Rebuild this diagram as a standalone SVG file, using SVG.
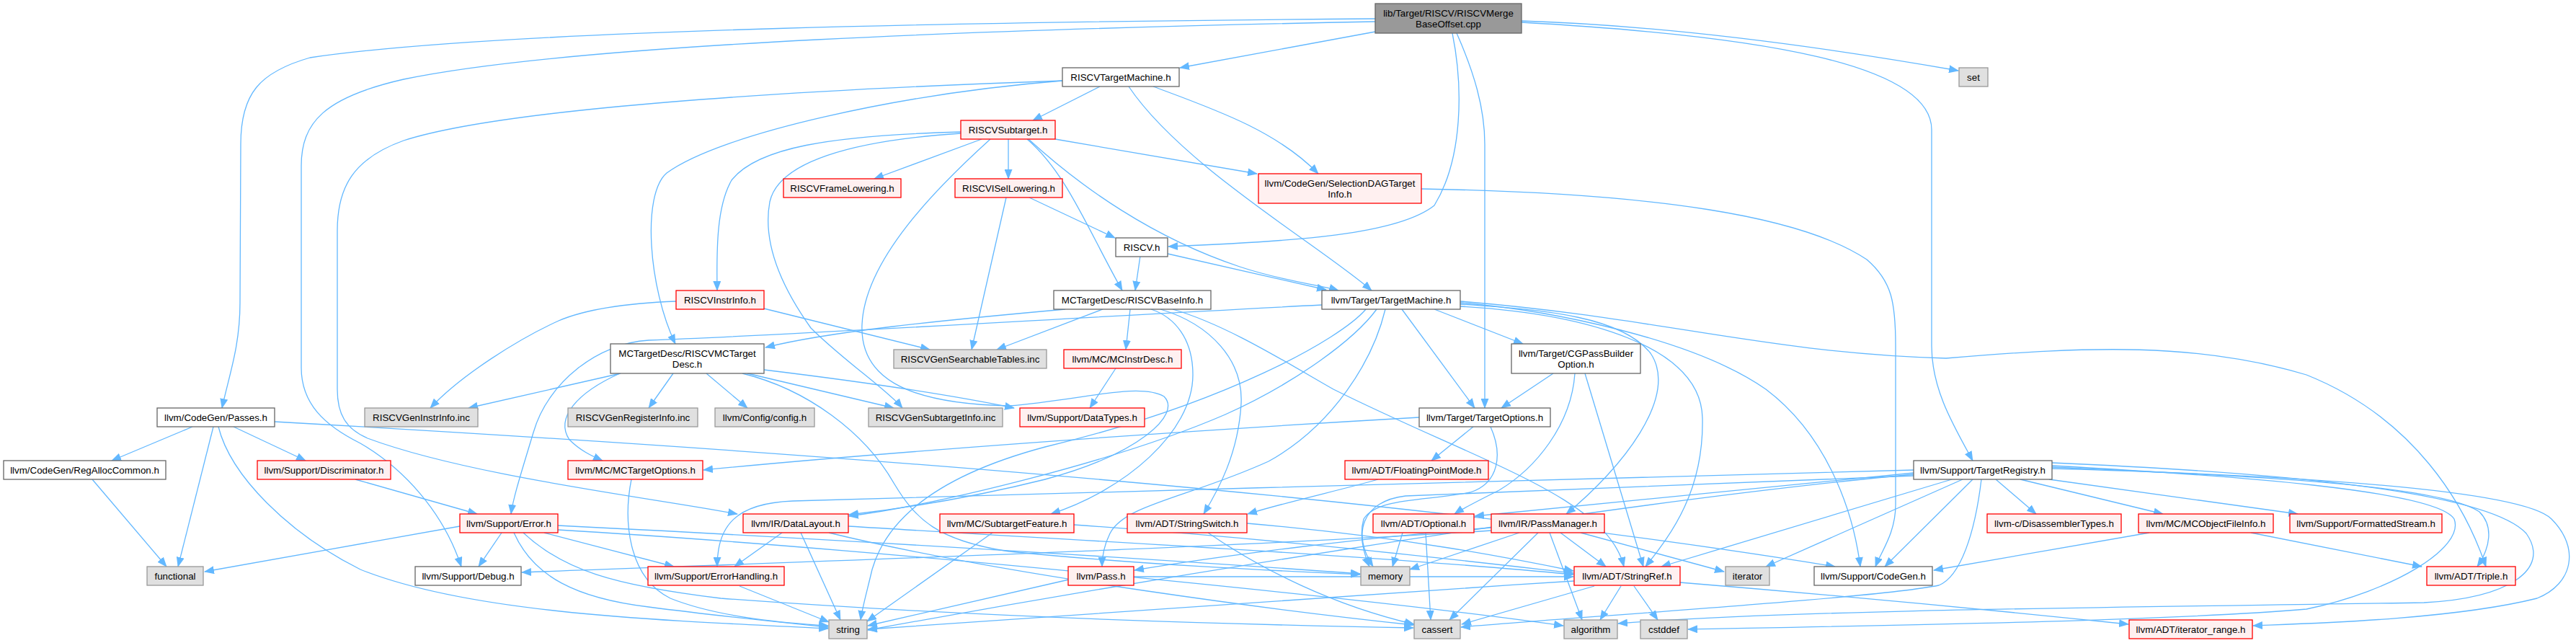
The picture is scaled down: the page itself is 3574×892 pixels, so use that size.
<svg xmlns="http://www.w3.org/2000/svg" width="3574" height="892" viewBox="0 0 3574 892">
<defs>
<marker id="arr" markerUnits="userSpaceOnUse" markerWidth="14" markerHeight="11" viewBox="0 0 14 11" refX="13" refY="5.5" orient="auto"><path d="M0,0 L14,5.5 L0,11 z" fill="#63b8ff"/></marker>
<style>
.node rect{stroke-width:1.3}
.w{fill:#ffffff;stroke:#666666}
.r{fill:#fff0f0;stroke:#ff0000}
.g{fill:#e0e0e0;stroke:#999999}
.m{fill:#999999;stroke:#666666}
text{font-family:"Liberation Sans",Arial,Helvetica,sans-serif;font-size:13.33px;fill:#000000;text-anchor:middle}
#edges path{fill:none;stroke:#63b8ff;stroke-width:1.3;marker-end:url(#arr)}
</style>
</defs>
<rect x="0" y="0" width="3574" height="892" fill="#ffffff"/>
<g id="edges">
<path d="M1908,44 L1637,94"/>
<path d="M1908,26 C1400,30 700,40 430,80 C360,100 334,130 334,200 L333,420 C333,480 318,520 308,566"/>
<path d="M1908,30 C1400,40 800,60 560,110 C450,135 418,170 418,230 L418,510 C418,560 450,590 500,615 C560,650 615,710 640,786"/>
<path d="M2015,46 C2030,120 2030,220 1990,285 C1940,325 1800,335 1621,342"/>
<path d="M2021,46 C2045,100 2060,150 2060,200 L2060,566"/>
<path d="M2111,29 C2300,35 2500,60 2717,98"/>
<path d="M2111,31 C2450,50 2680,90 2680,180 L2680,480 C2680,540 2710,590 2737,639"/>
<path d="M1526,120 L1433,167"/>
<path d="M1566,120 C1640,230 1830,340 1903,403"/>
<path d="M1600,120 C1680,150 1770,180 1829,241"/>
<path d="M1474,112 C1250,130 1000,185 925,240 C890,270 900,400 937,477"/>
<path d="M1474,112 C1100,125 700,150 560,195 C490,220 468,260 468,320 L468,540 C468,575 480,595 510,608 C650,660 900,690 1023,713"/>
<path d="M1333,183 C1150,188 1050,205 1015,250 C995,285 994,340 995,403"/>
<path d="M1333,185 C1180,195 1080,225 1068,280 C1055,350 1100,420 1125,455 C1170,500 1230,540 1252,566"/>
<path d="M1362,193 L1213,248"/>
<path d="M1399,193 L1399,248"/>
<path d="M1425,193 C1480,240 1510,320 1557,403"/>
<path d="M1427,193 C1500,260 1600,330 1720,370 C1780,390 1830,395 1857,403"/>
<path d="M1464,193 L1744,241"/>
<path d="M1374,193 C1300,260 1200,360 1196,450 C1193,520 1250,560 1400,563 C1500,555 1580,530 1615,550 C1640,575 1580,630 1450,665 C1330,695 1230,708 1178,714"/>
<path d="M1428,274 L1547,330"/>
<path d="M1396,274 L1348,485"/>
<path d="M1972,262 C2300,268 2500,300 2590,360 C2625,390 2630,420 2630,480 L2630,700 C2630,740 2610,765 2602,786"/>
<path d="M1582,355 L1575,403"/>
<path d="M1620,352 L1840,402"/>
<path d="M938,418 C860,421 810,430 775,445 C720,470 640,520 597,566"/>
<path d="M1060,428 C1150,450 1230,470 1290,485"/>
<path d="M1478,429 C1300,445 1150,460 1062,482"/>
<path d="M1530,429 L1383,485"/>
<path d="M1568,429 L1562,485"/>
<path d="M1597,429 C1630,440 1655,470 1655,520 C1655,600 1560,680 1458,713"/>
<path d="M1610,429 C1680,450 1725,500 1722,560 C1718,630 1690,680 1670,713"/>
<path d="M1627,429 C1700,450 1780,500 1850,540 C2050,640 2230,690 2253,786"/>
<path d="M1834,423 C1500,440 1100,465 900,472 C830,476 760,530 740,600 C725,650 712,690 709,713"/>
<path d="M1910,429 C1880,470 1800,530 1700,575 C1550,640 1300,700 1178,716"/>
<path d="M1922,429 C1905,500 1850,590 1760,640 C1650,690 1560,700 1540,740 C1530,760 1529,775 1529,786"/>
<path d="M1895,429 C1860,470 1700,560 1450,620 C1300,660 1230,720 1210,790 C1203,820 1197,840 1194,860"/>
<path d="M1945,429 L2046,566"/>
<path d="M1990,429 L2113,477"/>
<path d="M2026,422 C2150,430 2250,440 2290,490 C2330,550 2250,650 2173,713"/>
<path d="M2026,425 C2200,435 2360,480 2362,580 C2364,680 2320,740 2283,786"/>
<path d="M2026,420 C2150,430 2350,470 2450,540 C2530,600 2570,700 2581,786"/>
<path d="M2026,418 C2300,440 2450,490 2700,497 C2900,480 3050,475 3200,520 C3350,580 3420,700 3449,786"/>
<path d="M1548,511 L1512,566"/>
<path d="M861,518 L650,566"/>
<path d="M934,518 L900,566"/>
<path d="M980,518 L1037,566"/>
<path d="M1037,518 L1240,566"/>
<path d="M1060,513 C1200,530 1330,550 1407,566"/>
<path d="M860,518 C800,545 770,580 790,610 C805,625 820,632 836,639"/>
<path d="M1030,518 C1120,540 1200,600 1240,670 C1270,720 1300,750 1400,765 C1600,785 1800,793 1887,797"/>
<path d="M2155,518 L2083,566"/>
<path d="M2185,518 C2180,590 2130,650 2080,680 C2050,695 2030,705 2018,713"/>
<path d="M2199,518 L2280,786"/>
<path d="M267,592 L155,639"/>
<path d="M296,592 L247,786"/>
<path d="M303,592 C320,660 400,740 500,790 C650,850 900,860 1149,872"/>
<path d="M324,592 L424,639"/>
<path d="M381,585 C1000,620 1900,680 2546,786"/>
<path d="M128,665 L231,786"/>
<path d="M493,665 L662,713"/>
<path d="M876,665 C865,720 870,800 930,830 C1000,858 1100,865 1149,868"/>
<path d="M2044,592 L1986,639"/>
<path d="M1969,579 C1600,600 1200,630 976,652"/>
<path d="M2068,592 C2085,630 2080,670 2040,683 C1980,695 1910,690 1892,720 C1885,745 1893,770 1900,786"/>
<path d="M1912,665 C1860,680 1790,695 1731,713"/>
<path d="M2769,665 L2825,713"/>
<path d="M2803,665 L3001,713"/>
<path d="M2843,665 L3188,713"/>
<path d="M2847,648 C3100,660 3380,670 3440,710 C3460,730 3455,760 3437,786"/>
<path d="M2847,650 C3200,660 3500,680 3540,720 C3580,760 3570,810 3520,830 C3400,860 3200,865 3126,868"/>
<path d="M2847,646 C3100,660 3380,680 3405,720 C3420,760 3320,820 3200,845 C3000,862 2600,868 2342,873"/>
<path d="M2847,642 C3150,655 3450,680 3505,740 C3540,790 3480,830 3363,836 C3000,842 2500,845 2245,865"/>
<path d="M2749,665 C2740,740 2720,800 2690,812 C2600,830 2200,855 2027,870"/>
<path d="M2708,665 L2305,786"/>
<path d="M2723,665 L2450,786"/>
<path d="M2737,665 L2615,786"/>
<path d="M2655,656 L2046,716"/>
<path d="M2655,652 C2200,665 1600,680 1100,695 C1020,698 995,730 995,786"/>
<path d="M2655,658 C2200,700 1500,820 1204,874"/>
<path d="M2655,660 C2300,672 2050,682 1950,688 C1890,695 1875,740 1905,786"/>
<path d="M638,730 L284,793"/>
<path d="M696,739 L664,786"/>
<path d="M755,739 L935,786"/>
<path d="M713,739 C740,800 800,830 900,842 C1000,855 1100,865 1149,870"/>
<path d="M726,739 C780,790 850,812 1000,830 C1400,860 1800,868 1961,871"/>
<path d="M774,735 C1200,760 1900,830 2169,868"/>
<path d="M774,729 C1100,745 1600,775 1887,796"/>
<path d="M1085,739 L1019,786"/>
<path d="M1111,739 L1166,860"/>
<path d="M1150,739 C1400,800 1800,850 1961,867"/>
<path d="M1177,730 C1500,750 1900,770 2183,797"/>
<path d="M1377,739 L1203,862"/>
<path d="M1490,728 C1800,750 2050,780 2183,795"/>
<path d="M1730,726 C1950,745 2100,775 2183,792"/>
<path d="M1676,739 C1750,790 1850,840 1962,866"/>
<path d="M1946,739 L1932,786"/>
<path d="M1978,739 L1985,860"/>
<path d="M2108,739 L1956,790"/>
<path d="M2134,739 L2011,860"/>
<path d="M2150,739 L2195,860"/>
<path d="M2165,739 L2228,786"/>
<path d="M2193,739 L2392,793"/>
<path d="M2069,732 C1900,745 1700,770 1574,791"/>
<path d="M2069,736 C1700,760 1100,780 724,794"/>
<path d="M2982,739 L2683,791"/>
<path d="M3123,739 L3360,786"/>
<path d="M1026,813 L1150,863"/>
<path d="M1483,804 L1204,868"/>
<path d="M1573,800 C1800,800 2000,800 2183,800"/>
<path d="M2184,806 C1800,830 1400,860 1204,873"/>
<path d="M2212,813 L2028,866"/>
<path d="M2249,813 L2220,860"/>
<path d="M2267,813 L2300,860"/>
<path d="M2331,808 C2600,830 2800,850 2953,866"/>
</g>
<g id="n0" class="node"><rect class="m" x="1908" y="5" width="203" height="41"/><text x="2009.5" y="23">lib/Target/RISCV/RISCVMerge</text><text x="2009.5" y="38">BaseOffset.cpp</text></g>
<g id="n1" class="node"><rect class="w" x="1474" y="94" width="162" height="26"/><text x="1555" y="111.7">RISCVTargetMachine.h</text></g>
<g id="n2" class="node"><rect class="g" x="2718" y="94" width="40" height="26"/><text x="2738" y="111.7">set</text></g>
<g id="n3" class="node"><rect class="r" x="1333" y="167" width="131" height="26"/><text x="1398.5" y="184.7">RISCVSubtarget.h</text></g>
<g id="n4" class="node"><rect class="r" x="1087" y="248" width="163" height="26"/><text x="1168.5" y="265.7">RISCVFrameLowering.h</text></g>
<g id="n5" class="node"><rect class="r" x="1325" y="248" width="149" height="26"/><text x="1399.5" y="265.7">RISCVISelLowering.h</text></g>
<g id="n6" class="node"><rect class="r" x="1746" y="241" width="226" height="41"/><text x="1859" y="259">llvm/CodeGen/SelectionDAGTarget</text><text x="1859" y="274">Info.h</text></g>
<g id="n7" class="node"><rect class="w" x="1548" y="330" width="72" height="26"/><text x="1584" y="347.7">RISCV.h</text></g>
<g id="n8" class="node"><rect class="r" x="938" y="403" width="122" height="26"/><text x="999" y="420.7">RISCVInstrInfo.h</text></g>
<g id="n9" class="node"><rect class="w" x="1462" y="403" width="218" height="26"/><text x="1571" y="420.7">MCTargetDesc/RISCVBaseInfo.h</text></g>
<g id="n10" class="node"><rect class="w" x="1834" y="403" width="192" height="26"/><text x="1930" y="420.7">llvm/Target/TargetMachine.h</text></g>
<g id="n11" class="node"><rect class="g" x="1240" y="485" width="212" height="26"/><text x="1346" y="502.7">RISCVGenSearchableTables.inc</text></g>
<g id="n12" class="node"><rect class="r" x="1476" y="485" width="163" height="26"/><text x="1557.5" y="502.7">llvm/MC/MCInstrDesc.h</text></g>
<g id="n13" class="node"><rect class="w" x="847" y="477" width="213" height="41"/><text x="953.5" y="495">MCTargetDesc/RISCVMCTarget</text><text x="953.5" y="510">Desc.h</text></g>
<g id="n14" class="node"><rect class="w" x="2097" y="477" width="179" height="41"/><text x="2186.5" y="495">llvm/Target/CGPassBuilder</text><text x="2186.5" y="510">Option.h</text></g>
<g id="n15" class="node"><rect class="w" x="218" y="566" width="163" height="26"/><text x="299.5" y="583.7">llvm/CodeGen/Passes.h</text></g>
<g id="n16" class="node"><rect class="g" x="506" y="566" width="157" height="26"/><text x="584.5" y="583.7">RISCVGenInstrInfo.inc</text></g>
<g id="n17" class="node"><rect class="g" x="788" y="566" width="180" height="26"/><text x="878" y="583.7">RISCVGenRegisterInfo.inc</text></g>
<g id="n18" class="node"><rect class="g" x="992" y="566" width="138" height="26"/><text x="1061" y="583.7">llvm/Config/config.h</text></g>
<g id="n19" class="node"><rect class="g" x="1205" y="566" width="186" height="26"/><text x="1298" y="583.7">RISCVGenSubtargetInfo.inc</text></g>
<g id="n20" class="node"><rect class="r" x="1415" y="566" width="173" height="26"/><text x="1501.5" y="583.7">llvm/Support/DataTypes.h</text></g>
<g id="n21" class="node"><rect class="w" x="1969" y="566" width="182" height="26"/><text x="2060" y="583.7">llvm/Target/TargetOptions.h</text></g>
<g id="n22" class="node"><rect class="w" x="5" y="639" width="225" height="26"/><text x="117.5" y="656.7">llvm/CodeGen/RegAllocCommon.h</text></g>
<g id="n23" class="node"><rect class="r" x="357" y="639" width="185" height="26"/><text x="449.5" y="656.7">llvm/Support/Discriminator.h</text></g>
<g id="n24" class="node"><rect class="r" x="788" y="639" width="187" height="26"/><text x="881.5" y="656.7">llvm/MC/MCTargetOptions.h</text></g>
<g id="n25" class="node"><rect class="r" x="1866" y="639" width="199" height="26"/><text x="1965.5" y="656.7">llvm/ADT/FloatingPointMode.h</text></g>
<g id="n26" class="node"><rect class="w" x="2655" y="639" width="192" height="26"/><text x="2751" y="656.7">llvm/Support/TargetRegistry.h</text></g>
<g id="n27" class="node"><rect class="r" x="638" y="713" width="136" height="26"/><text x="706" y="730.7">llvm/Support/Error.h</text></g>
<g id="n28" class="node"><rect class="r" x="1031" y="713" width="146" height="26"/><text x="1104" y="730.7">llvm/IR/DataLayout.h</text></g>
<g id="n29" class="node"><rect class="r" x="1304" y="713" width="186" height="26"/><text x="1397" y="730.7">llvm/MC/SubtargetFeature.h</text></g>
<g id="n30" class="node"><rect class="r" x="1564" y="713" width="166" height="26"/><text x="1647" y="730.7">llvm/ADT/StringSwitch.h</text></g>
<g id="n31" class="node"><rect class="r" x="1905" y="713" width="140" height="26"/><text x="1975" y="730.7">llvm/ADT/Optional.h</text></g>
<g id="n32" class="node"><rect class="r" x="2069" y="713" width="157" height="26"/><text x="2147.5" y="730.7">llvm/IR/PassManager.h</text></g>
<g id="n33" class="node"><rect class="r" x="2757" y="713" width="186" height="26"/><text x="2850" y="730.7">llvm-c/DisassemblerTypes.h</text></g>
<g id="n34" class="node"><rect class="r" x="2967" y="713" width="187" height="26"/><text x="3060.5" y="730.7">llvm/MC/MCObjectFileInfo.h</text></g>
<g id="n35" class="node"><rect class="r" x="3177" y="713" width="211" height="26"/><text x="3282.5" y="730.7">llvm/Support/FormattedStream.h</text></g>
<g id="n36" class="node"><rect class="g" x="204" y="786" width="78" height="26"/><text x="243" y="803.7">functional</text></g>
<g id="n37" class="node"><rect class="w" x="576" y="786" width="147" height="26"/><text x="649.5" y="803.7">llvm/Support/Debug.h</text></g>
<g id="n38" class="node"><rect class="r" x="899" y="786" width="189" height="26"/><text x="993.5" y="803.7">llvm/Support/ErrorHandling.h</text></g>
<g id="n39" class="node"><rect class="r" x="1482" y="786" width="91" height="26"/><text x="1527.5" y="803.7">llvm/Pass.h</text></g>
<g id="n40" class="node"><rect class="g" x="1888" y="786" width="68" height="26"/><text x="1922" y="803.7">memory</text></g>
<g id="n41" class="node"><rect class="r" x="2184" y="786" width="147" height="26"/><text x="2257.5" y="803.7">llvm/ADT/StringRef.h</text></g>
<g id="n42" class="node"><rect class="g" x="2394" y="786" width="61" height="26"/><text x="2424.5" y="803.7">iterator</text></g>
<g id="n43" class="node"><rect class="w" x="2517" y="786" width="164" height="26"/><text x="2599" y="803.7">llvm/Support/CodeGen.h</text></g>
<g id="n44" class="node"><rect class="r" x="3367" y="786" width="123" height="26"/><text x="3428.5" y="803.7">llvm/ADT/Triple.h</text></g>
<g id="n45" class="node"><rect class="g" x="1150" y="860" width="53" height="26"/><text x="1176.5" y="877.7">string</text></g>
<g id="n46" class="node"><rect class="g" x="1962" y="860" width="64" height="26"/><text x="1994" y="877.7">cassert</text></g>
<g id="n47" class="node"><rect class="g" x="2170" y="860" width="74" height="26"/><text x="2207" y="877.7">algorithm</text></g>
<g id="n48" class="node"><rect class="g" x="2276" y="860" width="65" height="26"/><text x="2308.5" y="877.7">cstddef</text></g>
<g id="n49" class="node"><rect class="r" x="2954" y="860" width="171" height="26"/><text x="3039.5" y="877.7">llvm/ADT/iterator_range.h</text></g>
</svg>
